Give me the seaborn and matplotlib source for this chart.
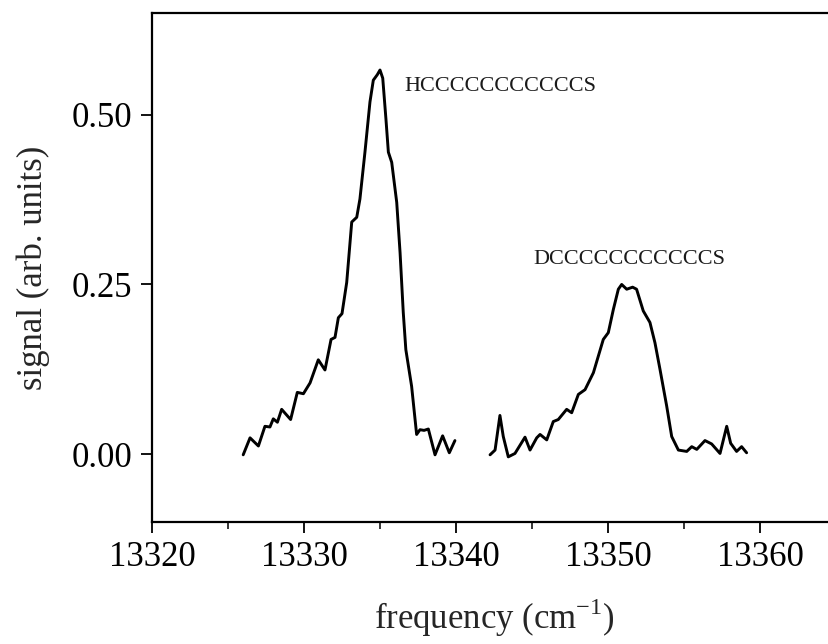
import numpy as np
import pandas as pd
import matplotlib
matplotlib.use("Agg")
import matplotlib.pyplot as plt
import seaborn as sns
from matplotlib.ticker import MultipleLocator

# HCCCCCCCCCCCS band
hc_freq = [13326.0, 13326.45, 13327.0, 13327.43, 13327.76, 13327.98, 13328.25, 13328.53,
           13329.12, 13329.56, 13329.96, 13330.4, 13330.94, 13331.38, 13331.78, 13332.04,
           13332.26, 13332.5, 13332.81, 13333.14, 13333.47, 13333.68, 13334.01, 13334.34,
           13334.56, 13334.82, 13335.0, 13335.18, 13335.39, 13335.55, 13335.77, 13336.1,
           13336.32, 13336.53, 13336.7, 13337.08, 13337.41, 13337.63, 13337.9, 13338.18,
           13338.62, 13339.12, 13339.56, 13339.93]
hc_signal = [-0.001, 0.024, 0.012, 0.041, 0.040, 0.052, 0.047, 0.066,
             0.051, 0.091, 0.089, 0.105, 0.139, 0.124, 0.169, 0.172,
             0.201, 0.207, 0.253, 0.342, 0.349, 0.376, 0.445, 0.519,
             0.551, 0.559, 0.566, 0.554, 0.494, 0.445, 0.430, 0.371,
             0.297, 0.209, 0.154, 0.100, 0.029, 0.036, 0.035, 0.037,
             -0.001, 0.027, 0.002, 0.020]

# DCCCCCCCCCCCS band
dc_freq = [13342.24, 13342.57, 13342.89, 13343.11, 13343.44, 13343.88, 13344.54, 13344.87,
           13345.31, 13345.53, 13345.97, 13346.4, 13346.73, 13347.28, 13347.61, 13348.05,
           13348.49, 13349.04, 13349.69, 13350.02, 13350.35, 13350.68, 13350.9, 13351.23,
           13351.62, 13351.88, 13352.32, 13352.76, 13353.09, 13353.42, 13353.86, 13354.19,
           13354.63, 13355.18, 13355.51, 13355.84, 13356.38, 13356.82, 13357.37, 13357.81,
           13358.07, 13358.46, 13358.79, 13359.12]
dc_signal = [-0.001, 0.006, 0.057, 0.026, -0.004, 0.001, 0.025, 0.006,
             0.024, 0.029, 0.021, 0.048, 0.051, 0.066, 0.061, 0.088,
             0.095, 0.120, 0.169, 0.179, 0.213, 0.243, 0.250, 0.243,
             0.246, 0.243, 0.211, 0.194, 0.164, 0.125, 0.071, 0.026,
             0.006, 0.004, 0.011, 0.007, 0.020, 0.015, 0.001, 0.041,
             0.016, 0.004, 0.011, 0.002]

x_ticks = [13320, 13330, 13340, 13350, 13360]
y_ticks = [0.00, 0.25, 0.50]
y_tick_labels = ["0.00", "0.25", "0.50"]
labels = ["HCCCCCCCCCCCS", "DCCCCCCCCCCCS"]

sns.set_style("ticks")
plt.rcParams["font.family"] = ["Liberation Serif", "DejaVu Serif"]
plt.rcParams["mathtext.fontset"] = "custom"
plt.rcParams["mathtext.rm"] = "Liberation Serif"

fig = plt.figure(figsize=(8.29, 6.44), dpi=100)
x0, x1 = 152 / 829, 836 / 829
ax = fig.add_axes([x0, 1 - 522 / 644, x1 - x0, (522 - 13) / 644])

df_hc = pd.DataFrame({"freq": hc_freq, "signal": hc_signal})
df_dc = pd.DataFrame({"freq": dc_freq, "signal": dc_signal})
for d in (df_hc, df_dc):
    sns.lineplot(data=d, x="freq", y="signal", ax=ax, color="black", lw=2.1, sort=False,
                 solid_joinstyle="round", solid_capstyle="round")

ax.set_xlim(13320, 13365)
ax.set_ylim(-0.1, 0.65)
ax.set_xticks(x_ticks)
ax.set_xticklabels([str(t) for t in x_ticks])
ax.xaxis.set_minor_locator(MultipleLocator(5))
ax.set_yticks(y_ticks)
ax.set_yticklabels(y_tick_labels)

ax.tick_params(axis="both", which="major", direction="out", length=8, width=1.3,
               labelsize=25, colors="black", pad=6)
ax.tick_params(axis="x", which="minor", direction="out", length=5, width=1.3)
for s in ax.spines.values():
    s.set_linewidth(1.6)
    s.set_color("black")
ax.spines["right"].set_visible(False)

ax.set_xlabel("frequency (cm$^{-1}$)", fontsize=25, labelpad=16)
ax.set_ylabel("signal (arb. units)", fontsize=25, labelpad=16)

ax.text(13336.6, 0.542, labels[0], fontsize=16, ha="left", va="center", color="#1a1a1a")
ax.text(13351.4, 0.287, labels[1], fontsize=16, ha="center", va="center", color="#1a1a1a")

fig.savefig("out.png", dpi=100)
